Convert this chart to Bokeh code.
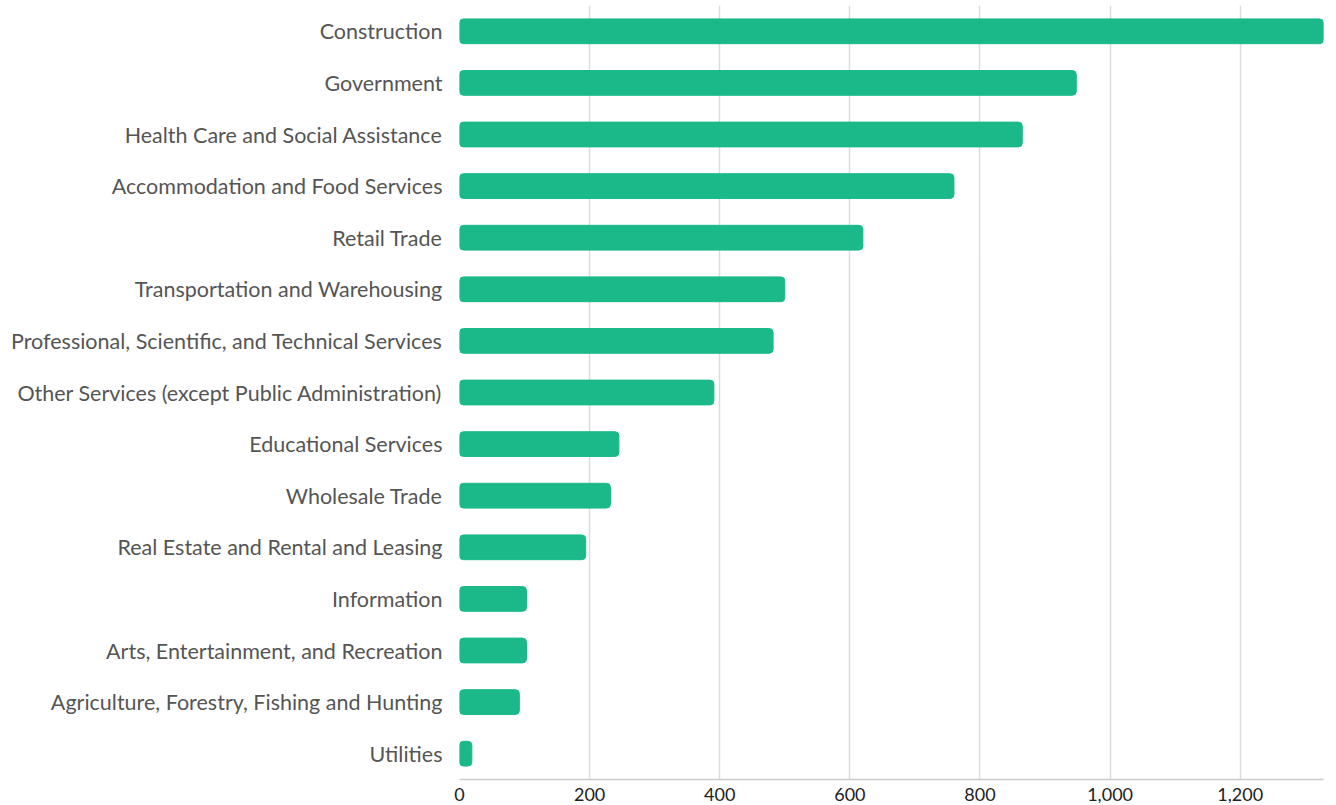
from bokeh.plotting import figure
from bokeh.models import ColumnDataSource, NumeralTickFormatter, SingleIntervalTicker, Range1d
from bokeh.embed import file_html
from bokeh.resources import INLINE

industries = [
    "Construction",
    "Government",
    "Health Care and Social Assistance",
    "Accommodation and Food Services",
    "Retail Trade",
    "Transportation and Warehousing",
    "Professional, Scientific, and Technical Services",
    "Other Services (except Public Administration)",
    "Educational Services",
    "Wholesale Trade",
    "Real Estate and Rental and Leasing",
    "Information",
    "Arts, Entertainment, and Recreation",
    "Agriculture, Forestry, Fishing and Hunting",
    "Utilities",
]
counts = [1328, 948, 865, 760, 620, 500, 482, 391, 245, 232, 194, 103, 103, 92, 19]

cats = list(reversed(industries))
source = ColumnDataSource(data=dict(industry=industries, count=counts))

p = figure(
    y_range=cats,
    x_range=Range1d(0, 1328),
    width=1330,
    height=803,
    output_backend="svg",
    toolbar_location=None,
    min_border_left=459,
    min_border_top=5,
    min_border_right=7,
    min_border_bottom=0,
)
p.hbar(y="industry", right="count", left=0, height=0.48, source=source,
       fill_color="#1bb98a", line_color="#1bb98a", line_width=1,
       border_radius=4)

p.outline_line_color = None
p.ygrid.grid_line_color = None
p.xgrid.grid_line_color = "#dcdcdc"
p.xgrid.grid_line_width = 1.5
p.xaxis.ticker = SingleIntervalTicker(interval=200)
p.xaxis.formatter = NumeralTickFormatter(format="0,0")
p.xaxis.axis_line_color = "#cccccc"
p.xaxis.axis_line_width = 1.5
p.xaxis.major_tick_line_color = None
p.xaxis.minor_tick_line_color = None
p.xaxis.major_tick_out = 0
p.xaxis.minor_tick_out = 0
p.xaxis.major_label_text_font = "Lato"
p.xaxis.major_label_text_font_size = "18px"
p.xaxis.major_label_text_color = "#222222"
p.xaxis.major_label_standoff = 8

p.yaxis.axis_line_color = None
p.yaxis.major_tick_line_color = None
p.yaxis.minor_tick_line_color = None
p.yaxis.major_tick_out = 0
p.yaxis.minor_tick_out = 0
p.yaxis.major_label_text_font = "Lato"
p.yaxis.major_label_text_font_size = "21.5px"
p.yaxis.major_label_text_color = "#555555"
p.yaxis.major_label_standoff = 17

open("out.html", "w").write(file_html(p, INLINE))
